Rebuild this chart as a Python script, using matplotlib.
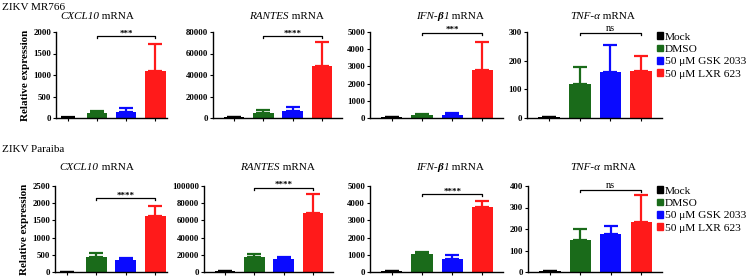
import matplotlib
matplotlib.use("Agg")
import matplotlib.pyplot as plt
from matplotlib.patches import Patch
from matplotlib.offsetbox import TextArea, HPacker, AnchoredOffsetbox

plt.rcParams['font.family'] = ['Liberation Serif', 'DejaVu Serif']

groups = ["Mock", "DMSO", "50 \u03bcM GSK 2033", "50 \u03bcM LXR 623"]
colors = ["#000000", "#1a6b1a", "#0a0aff", "#ff1a1a"]
# title pieces: (text, style, weight)
titles = [[("CXCL10", "italic", "normal"), (" mRNA", "normal", "normal")],
          [("RANTES", "italic", "normal"), (" mRNA", "normal", "normal")],
          [("IFN-", "italic", "normal"), ("\u03b2", "italic", "bold"),
           ("1", "italic", "normal"), (" mRNA", "normal", "normal")],
          [("TNF-\u03b1", "italic", "normal"), (" mRNA", "normal", "normal")]]
row_names = ["ZIKV MR766", "ZIKV Paraiba"]

# row 1: ZIKV MR766
mr_mean = [[10, 110, 150, 1100],
           [800, 4800, 6700, 48000],
           [50, 150, 180, 2790],
           [3, 118, 161, 163]]
mr_err = [[5, 60, 90, 630],
          [300, 2200, 3800, 23000],
          [20, 80, 110, 1630],
          [1, 61, 92, 53]]
mr_ymax = [2000, 80000, 5000, 300]
mr_step = [500, 20000, 1000, 100]
mr_sig = [1900, 76000, 4950, 296]
mr_stars = ["***", "****", "***", "ns"]

# row 2: ZIKV Paraiba
pa_mean = [[5, 433, 346, 1635],
           [1000, 17200, 15200, 68400],
           [40, 1020, 770, 3770],
           [3, 150, 177, 234]]
pa_err = [[2, 105, 67, 288],
          [300, 4000, 2000, 22800],
          [15, 170, 190, 330],
          [1, 48, 38, 122]]
pa_ymax = [2500, 100000, 5000, 400]
pa_step = [500, 20000, 1000, 100]
pa_sig = [2144, 98000, 4520, 382]
pa_stars = ["****", "****", "****", "ns"]

W, H = 750, 278
fig = plt.figure(figsize=(7.5, 2.78), dpi=100)

cols_px = [[(56, 167), (213, 342), (370, 503), (527, 662)],
           [(55, 167), (204, 333), (370, 503), (528, 662)]]
rows_px = [(32, 118), (186, 272)]
title_x = [0.37, 0.57, 0.60, 0.56]
title_y = [1.175, 1.22]


def add_title(ax, pieces, x, y):
    boxes = [TextArea(t, textprops=dict(fontsize=8, style=s, weight=w)) for t, s, w in pieces]
    pack = HPacker(children=boxes, align="baseline", pad=0, sep=0)
    ab = AnchoredOffsetbox(loc="center", child=pack, pad=0, frameon=False,
                           bbox_to_anchor=(x, y), bbox_transform=ax.transAxes, borderpad=0)
    ax.add_artist(ab)


def draw_row(r, means, errs, ymaxs, steps, sigs, stars):
    top, bot = rows_px[r]
    axes = []
    for i in range(4):
        x0, x1 = cols_px[r][i]
        ax = fig.add_axes([x0 / W, (H - bot) / H, (x1 - x0) / W, (bot - top) / H])
        xs = list(range(4))
        ax.bar(xs, means[i], width=0.7, color=colors, zorder=2)
        for k in xs:
            ax.errorbar(k, means[i][k], yerr=[[0], [errs[i][k]]], color=colors[k],
                        capsize=5, elinewidth=1.6, capthick=1.6, zorder=1)
        ax.set_ylim(0, ymaxs[i])
        ax.set_yticks(range(0, ymaxs[i] + 1, steps[i]))
        if i == 0:
            ax.set_xlim(-0.4, 3.4)
        else:
            ax.set_xlim(-0.72, 3.68)
        ax.set_xticks(xs)
        ax.set_xticklabels([])
        for s in ["top", "right"]:
            ax.spines[s].set_visible(False)
        for s in ["left", "bottom"]:
            ax.spines[s].set_linewidth(1.0)
        ax.tick_params(length=2.5, width=0.8, labelsize=6.3, pad=1)
        for t in ax.get_yticklabels():
            t.set_fontweight("bold")
        add_title(ax, titles[i], title_x[i], title_y[r])
        # significance bracket DMSO vs LXR
        h = sigs[i]
        d = ymaxs[i] * 0.025
        ax.plot([1, 1, 3, 3], [h - d, h, h, h - d], color="black", lw=0.9, clip_on=False)
        if stars[i] == "ns":
            ax.text(2, h + d * 0.1, "ns", ha="center", va="bottom", fontsize=7.5, clip_on=False)
        else:
            ax.text(2, h - d * 0.6, stars[i], ha="center", va="bottom", fontsize=6.5,
                    fontweight="bold", clip_on=False)
        axes.append(ax)
    axes[0].set_ylabel("Relative expression", fontsize=8, fontweight="bold", labelpad=2)
    handles = [Patch(color=c) for c in colors]
    axes[3].legend(handles, groups, loc="upper left", bbox_to_anchor=(0.93, 1.05),
                   frameon=False, fontsize=8.2, handlelength=0.55, handleheight=0.55,
                   handletextpad=0.15, labelspacing=0.25, borderaxespad=0)
    fig.text(2 / W, 1 - (top - 24 if r == 0 else top - 37) / H, row_names[r],
             fontsize=8, ha="left", va="center")


draw_row(0, mr_mean, mr_err, mr_ymax, mr_step, mr_sig, mr_stars)
draw_row(1, pa_mean, pa_err, pa_ymax, pa_step, pa_sig, pa_stars)

fig.savefig("out.png", dpi=100)
